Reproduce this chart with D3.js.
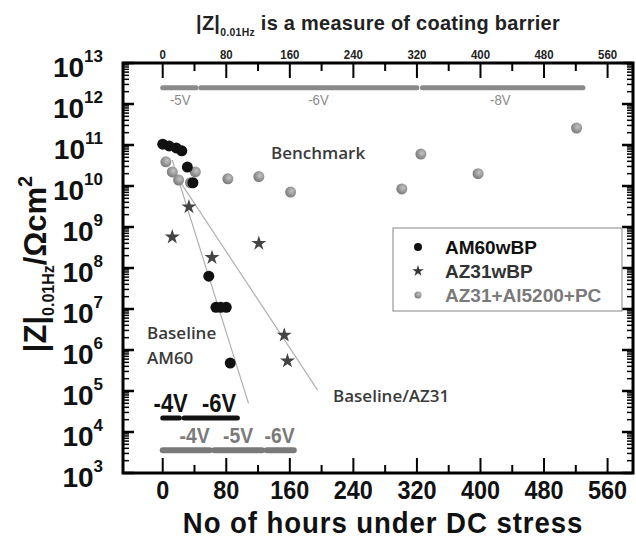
<!DOCTYPE html>
<html>
<head>
<meta charset="utf-8">
<script src="https://cdn.jsdelivr.net/npm/d3@7"></script>
<style>
  body { margin: 0; background: #fff; }
  svg { display: block; font-family: "Liberation Sans", Arial, sans-serif; }
</style>
</head>
<body>
<script>
// series: hours under DC stress vs |Z| at 0.01 Hz
const am60Hours = [0, 8, 17, 24, 31, 38, 58, 67, 73, 80, 85];
const am60Z = [1.05e11, 9.5e10, 8.5e10, 7.2e10, 2.9e10, 1.2e10, 6.3e7, 1.1e7, 1.1e7, 1.1e7, 4.8e5];

const az31Hours = [12, 33, 62, 121, 153, 157];
const az31Z = [5.7e8, 3.1e9, 1.8e8, 4e8, 2.3e6, 5.4e5];

const pcHours = [4, 12, 20, 35, 41, 82, 121, 161, 301, 325, 397, 521];
const pcZ = [3.9e10, 2.2e10, 1.4e10, 1.2e10, 2.2e10, 1.5e10, 1.7e10, 7.1e9, 8.5e9, 6e10, 2e10, 2.6e11];

// guide lines drawn by hand in the original
const baselineAM60 = [[12, 4.3e10], [108, 5e4]];
const baselineAZ31 = [[16, 1.9e10], [195, 1.05e5]];

// voltage steps (hours): from, to, label, label position
const topSteps = [[0, 42, "-5V", 22], [48, 320, "-6V", 196], [327, 529, "-8V", 425]];
const am60Steps = [[0, 21, "-4V", 10], [27, 94, "-6V", 71]];
const az31Steps = [[0, 59, "-4V", 40], [65, 125, "-5V", 95], [131, 165, "-6V", 147]];

const xTicks = [0, 80, 160, 240, 320, 400, 480, 560];
const yExponents = [3, 4, 5, 6, 7, 8, 9, 10, 11, 12, 13];

const legendLabels = ["AM60wBP", "AZ31wBP", "AZ31+Al5200+PC"];

const W = 636, H = 540;
const margin = { top: 63, right: 3, bottom: 67, left: 123 };

const svg = d3.select("body").append("svg")
    .attr("width", W).attr("height", H);

const defs = svg.append("defs");
const grad = defs.append("radialGradient").attr("id", "grayBall")
    .attr("cx", "60%").attr("cy", "40%").attr("r", "60%");
grad.append("stop").attr("offset", "0%").attr("stop-color", "#c4c4c4");
grad.append("stop").attr("offset", "100%").attr("stop-color", "#7a7a7a");

const x = d3.scaleLinear().domain([-50, 592]).range([margin.left, W - margin.right]);
const y = d3.scaleLog().domain([1e3, 1e13]).range([H - margin.bottom, margin.top]);

const x0 = x.range()[0], x1 = x.range()[1];
const y0 = y.range()[0], y1 = y.range()[1];

// minor log ticks
const minorY = [];
for (let e = 3; e < 13; e++) for (let m = 2; m <= 9; m++) minorY.push(m * Math.pow(10, e));

// frame ticks
const tk = svg.append("g").attr("stroke", "#000");
tk.selectAll(".ymaj").data(yExponents).enter().append("g").each(function (e) {
    const g = d3.select(this), yy = y(Math.pow(10, e));
    g.append("line").attr("x1", x0).attr("x2", x0 + 11).attr("y1", yy).attr("y2", yy).attr("stroke-width", 2.5);
    g.append("line").attr("x1", x1).attr("x2", x1 - 11).attr("y1", yy).attr("y2", yy).attr("stroke-width", 2.5);
});
tk.selectAll(".ymin").data(minorY).enter().append("g").each(function (v) {
    const g = d3.select(this), yy = y(v);
    g.append("line").attr("x1", x0).attr("x2", x0 + 6).attr("y1", yy).attr("y2", yy).attr("stroke-width", 1.5);
    g.append("line").attr("x1", x1).attr("x2", x1 - 6).attr("y1", yy).attr("y2", yy).attr("stroke-width", 1.5);
});
const xMinor = d3.range(40, 600, 80);
tk.selectAll(".xmaj").data(xTicks).enter().append("g").each(function (h) {
    const g = d3.select(this), xx = x(h);
    g.append("line").attr("x1", xx).attr("x2", xx).attr("y1", y0).attr("y2", y0 - 15).attr("stroke-width", 2);
    g.append("line").attr("x1", xx).attr("x2", xx).attr("y1", y1).attr("y2", y1 + 15).attr("stroke-width", 2);
});
tk.selectAll(".xmin").data(xMinor).enter().append("g").each(function (h) {
    const g = d3.select(this), xx = x(h);
    g.append("line").attr("x1", xx).attr("x2", xx).attr("y1", y0).attr("y2", y0 - 8).attr("stroke-width", 2);
    g.append("line").attr("x1", xx).attr("x2", xx).attr("y1", y1).attr("y2", y1 + 8).attr("stroke-width", 2);
});

svg.append("rect")
    .attr("x", x0).attr("y", y1).attr("width", x1 - x0).attr("height", y0 - y1)
    .attr("fill", "none").attr("stroke", "#000").attr("stroke-width", 3);

// y tick labels 10^n
const yl = svg.append("g").attr("font-weight", "bold").attr("fill", "#111");
yExponents.forEach(e => {
    const t = yl.append("text").attr("x", 103).attr("y", y(Math.pow(10, e)) + 14)
        .attr("text-anchor", "end").attr("font-size", 28);
    t.append("tspan").text("10");
    t.append("tspan").attr("font-size", 17).attr("dy", -15).text(e);
});

// bottom ticks (condensed look)
svg.append("g").selectAll("text").data(xTicks).enter().append("text")
    .attr("transform", d => `translate(${x(d)},${y0 + 26}) scale(0.9,1)`)
    .attr("text-anchor", "middle").attr("font-size", 26).attr("font-weight", "bold")
    .attr("fill", "#111").text(d => d);

// top ticks
svg.append("g").selectAll("text").data(xTicks).enter().append("text")
    .attr("transform", d => `translate(${x(d)},${y1 - 4}) scale(0.88,1)`)
    .attr("text-anchor", "middle").attr("font-size", 13).attr("font-weight", "bold")
    .attr("fill", "#222").text(d => d);

// titles
svg.append("text").attr("transform", "translate(383,533) scale(0.92,1)").attr("text-anchor", "middle")
    .attr("font-size", 30).attr("font-weight", "bold").attr("fill", "#111")
    .attr("letter-spacing", 1)
    .text("No of hours under DC stress");

const tt = svg.append("text").attr("transform", "translate(378,30) scale(0.95,1)").attr("text-anchor", "middle")
    .attr("font-size", 21).attr("font-weight", "bold").attr("fill", "#222")
    .attr("letter-spacing", 0.3);
tt.append("tspan").text("|Z|");
tt.append("tspan").attr("font-size", 11).attr("dy", 6).text("0.01Hz");
tt.append("tspan").attr("dy", -6).text(" is a measure of coating barrier");

const yt = svg.append("text").attr("transform", "translate(46,264) rotate(-90)")
    .attr("text-anchor", "middle").attr("font-size", 31).attr("font-weight", "bold").attr("fill", "#111");
yt.append("tspan").text("|Z|");
yt.append("tspan").attr("font-size", 16).attr("dy", 8).text("0.01Hz");
yt.append("tspan").attr("dy", -8).text("/Ωcm");
yt.append("tspan").attr("font-size", 20).attr("dy", -14).text("2");

// voltage step bars
function steps(data, zVal, color, width, labelDy, fontSize, weight) {
    const g = svg.append("g");
    g.selectAll("line").data(data).enter().append("line")
        .attr("x1", d => x(d[0])).attr("x2", d => x(d[1]))
        .attr("y1", y(zVal)).attr("y2", y(zVal))
        .attr("stroke", color).attr("stroke-width", width).attr("stroke-linecap", "round");
    g.selectAll("text").data(data).enter().append("text")
        .attr("transform", d => `translate(${x(d[3])},${y(zVal) + labelDy}) scale(0.88,1)`)
        .attr("text-anchor", "middle").attr("font-size", fontSize).attr("font-weight", weight)
        .attr("fill", color).text(d => d[2]);
}
steps(topSteps, 2.5e12, "#8a8a8a", 5, 17, 15, "normal");
steps(am60Steps, 2.2e4, "#111", 5, -6, 25, "bold");
steps(az31Steps, 3.6e3, "#7a7a7a", 6, -7, 22, "bold");

// guide lines
const line = d3.line().x(d => x(d[0])).y(d => y(d[1]));
svg.append("path").datum(baselineAM60).attr("d", line).attr("fill", "none").attr("stroke", "#b0b0b0").attr("stroke-width", 1.2);
svg.append("path").datum(baselineAZ31).attr("d", line).attr("fill", "none").attr("stroke", "#b0b0b0").attr("stroke-width", 1.2);

// annotations
const ann = svg.append("g").attr("font-family", "'Open Sans', sans-serif").attr("font-weight", "600").attr("fill", "#3a3a3a").attr("font-size", 17);
ann.append("text").attr("x", 271).attr("y", 159).text("Benchmark");
ann.append("text").attr("x", 147).attr("y", 339).text("Baseline");
ann.append("text").attr("x", 147).attr("y", 364).text("AM60");
ann.append("text").attr("x", 333).attr("y", 402).text("Baseline/AZ31");

// points
const star = d3.symbol().type(d3.symbolStar);
svg.append("g").selectAll("circle").data(pcHours.map((h, i) => [h, pcZ[i]])).enter().append("circle")
    .attr("cx", d => x(d[0])).attr("cy", d => y(d[1])).attr("r", 5.5)
    .attr("fill", "url(#grayBall)");
svg.append("g").selectAll("circle").data(am60Hours.map((h, i) => [h, am60Z[i]])).enter().append("circle")
    .attr("cx", d => x(d[0])).attr("cy", d => y(d[1])).attr("r", 5.5)
    .attr("fill", "#111");
svg.append("g").selectAll("path").data(az31Hours.map((h, i) => [h, az31Z[i]])).enter().append("path")
    .attr("transform", d => `translate(${x(d[0])},${y(d[1])})`)
    .attr("d", star.size(70)).attr("fill", "#444");

// legend
const lg = svg.append("g").attr("transform", "translate(393,228)");
lg.append("rect").attr("width", 229).attr("height", 83)
    .attr("fill", "#fff").attr("stroke", "#999").attr("stroke-width", 1.2);
const legColors = ["#111", "#333", "#7a7a7a"];
legendLabels.forEach((lab, i) => {
    const cy = 19 + i * 24;
    if (i === 0) lg.append("circle").attr("cx", 25).attr("cy", cy).attr("r", 4).attr("fill", "#111");
    if (i === 1) lg.append("path").attr("transform", `translate(25,${cy})`).attr("d", star.size(40)).attr("fill", "#333");
    if (i === 2) lg.append("circle").attr("cx", 25).attr("cy", cy).attr("r", 3.5).attr("fill", "url(#grayBall)");
    lg.append("text").attr("x", 52).attr("y", cy + 7).attr("font-size", 19).attr("font-weight", "bold")
        .attr("fill", legColors[i]).text(lab);
});
</script>
</body>
</html>
